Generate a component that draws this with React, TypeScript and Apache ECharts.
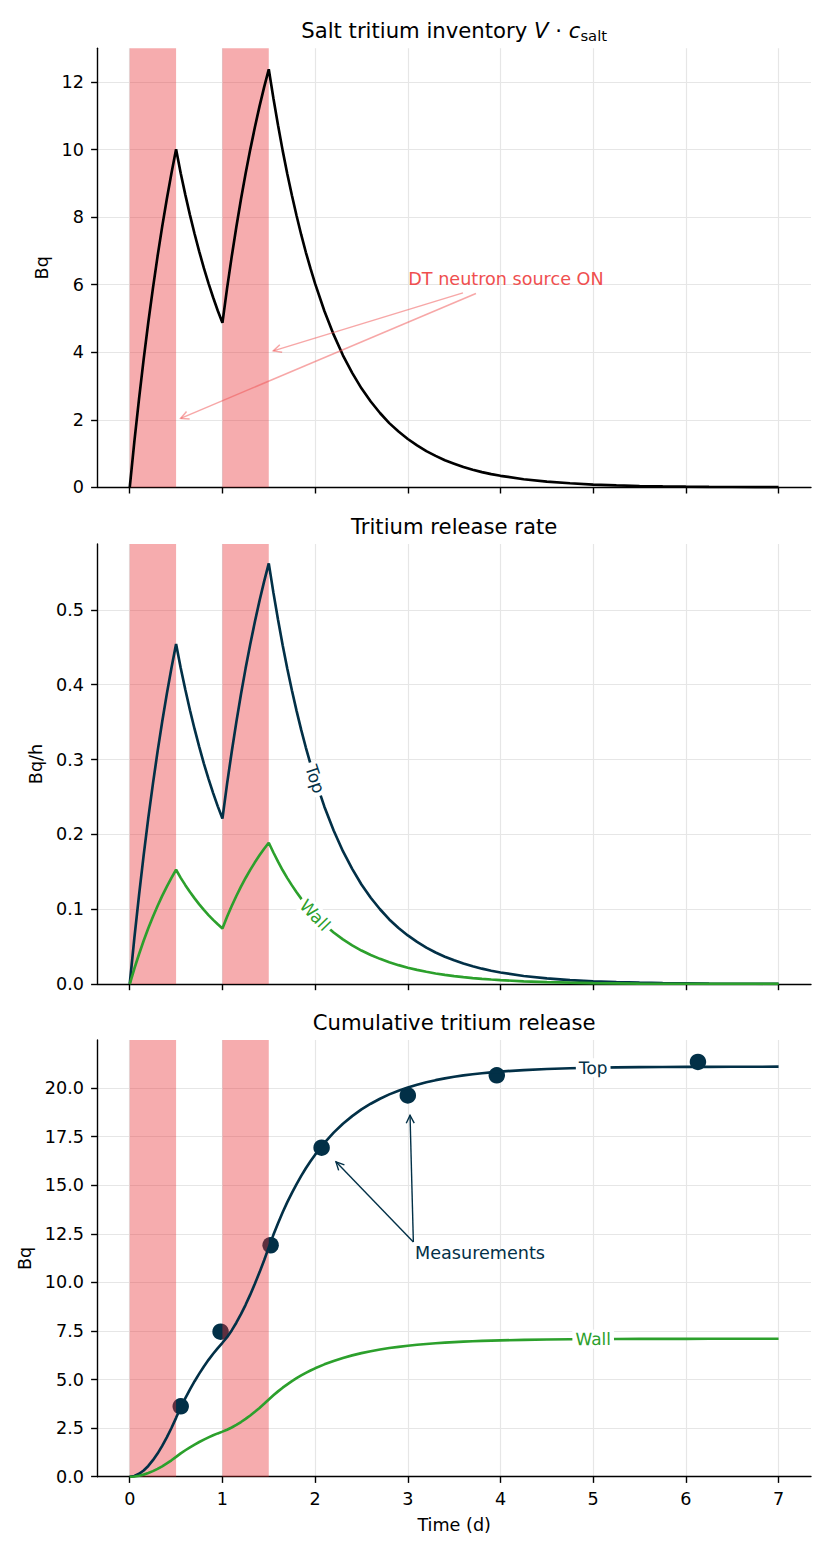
import React, { useEffect, useRef } from "react";
import * as echarts from "echarts";

// ---------- data ----------
const time = [
  0, 0.05, 0.1, 0.15, 0.2, 0.25, 0.3, 0.35, 0.4, 0.45, 0.5,
  0.55, 0.6, 0.65, 0.7, 0.75, 0.8, 0.85, 0.9, 0.95, 1.0,
  1.05, 1.1, 1.15, 1.2, 1.25, 1.3, 1.35, 1.4, 1.45, 1.5,
  1.55, 1.6, 1.65, 1.7, 1.75, 1.8, 1.85, 1.9, 1.95, 2.0,
  2.1, 2.2, 2.3, 2.4, 2.5, 2.6, 2.7, 2.8, 2.9, 3.0,
  3.1, 3.2, 3.3, 3.4, 3.5, 3.6, 3.7, 3.8, 3.9, 4.0,
  4.25, 4.5, 4.75, 5.0, 5.25, 5.5, 5.75, 6.0, 6.25, 6.5, 6.75, 7.0,
];

const inventory = [
  0, 1.36, 2.61, 3.79, 4.88, 5.89, 6.84, 7.72, 8.54, 9.3, 10.01,
  9.3, 8.66, 8.06, 7.5, 6.98, 6.49, 6.04, 5.62, 5.23, 4.87,
  5.89, 6.83, 7.71, 8.53, 9.29, 10.0, 10.66, 11.28, 11.85, 12.38,
  11.52, 10.72, 9.97, 9.28, 8.64, 8.04, 7.48, 6.96, 6.48, 6.03,
  5.22, 4.52, 3.91, 3.39, 2.93, 2.54, 2.2, 1.9, 1.65, 1.43,
  1.24, 1.07, 0.93, 0.8, 0.7, 0.6, 0.52, 0.45, 0.39, 0.34,
  0.24, 0.17, 0.12, 0.08, 0.056, 0.039, 0.027, 0.019, 0.013, 0.009, 0.006, 0.004,
];

const topRate = [
  0, 0.0615, 0.1185, 0.172, 0.2216, 0.2674, 0.3105, 0.3505, 0.3877, 0.4222, 0.4545,
  0.4222, 0.3932, 0.3659, 0.3405, 0.3169, 0.2946, 0.2742, 0.2551, 0.2374, 0.2211,
  0.2674, 0.3101, 0.35, 0.3873, 0.4218, 0.454, 0.484, 0.5121, 0.538, 0.5621,
  0.523, 0.4867, 0.4526, 0.4213, 0.3923, 0.365, 0.3396, 0.316, 0.2942, 0.2738,
  0.237, 0.2052, 0.1775, 0.1539, 0.133, 0.1153, 0.0999, 0.0863, 0.0749, 0.0649,
  0.0562, 0.0486, 0.0421, 0.0365, 0.0316, 0.0273, 0.0237, 0.0205, 0.0178, 0.0153,
  0.0107, 0.0075, 0.0052, 0.0036, 0.0025, 0.0018, 0.0012, 0.0009, 0.0006, 0.0004, 0.0003, 0.0002,
];

const wallRate = [
  0, 0.0207, 0.0398, 0.0578, 0.0744, 0.0898, 0.1043, 0.1177, 0.1302, 0.1418, 0.1527,
  0.1418, 0.1321, 0.1229, 0.1144, 0.1064, 0.099, 0.0921, 0.0857, 0.0798, 0.0743,
  0.0898, 0.1042, 0.1176, 0.1301, 0.1417, 0.1525, 0.1626, 0.172, 0.1807, 0.1888,
  0.1757, 0.1635, 0.152, 0.1415, 0.1318, 0.1226, 0.1141, 0.1061, 0.0988, 0.092,
  0.0796, 0.0689, 0.0596, 0.0517, 0.0447, 0.0387, 0.0336, 0.029, 0.0252, 0.0218,
  0.0189, 0.0163, 0.0141, 0.0122, 0.0106, 0.0092, 0.0079, 0.0069, 0.006, 0.0052,
  0.0036, 0.0025, 0.0018, 0.0012, 0.0009, 0.0006, 0.0004, 0.0003, 0.0002, 0.0001, 0.0001, 0.0001,
];

const topCumulative = [
  0, 0.037, 0.149, 0.317, 0.553, 0.849, 1.19, 1.584, 2.023, 2.507, 3.029,
  3.562, 4.043, 4.494, 4.914, 5.305, 5.673, 6.012, 6.327, 6.62, 6.891,
  7.179, 7.528, 7.922, 8.361, 8.844, 9.366, 9.925, 10.514, 11.141, 11.798,
  12.444, 13.045, 13.609, 14.127, 14.608, 15.059, 15.48, 15.87, 16.231, 16.569,
  17.178, 17.704, 18.162, 18.553, 18.898, 19.191, 19.447, 19.672, 19.86, 20.025,
  20.171, 20.295, 20.403, 20.497, 20.578, 20.648, 20.709, 20.761, 20.806, 20.846,
  20.923, 20.976, 21.014, 21.04, 21.058, 21.071, 21.08, 21.086, 21.09, 21.093, 21.095, 21.097,
];

const wallCumulative = [
  0, 0.012, 0.05, 0.107, 0.186, 0.286, 0.401, 0.533, 0.681, 0.844, 1.019,
  1.199, 1.361, 1.512, 1.654, 1.785, 1.909, 2.023, 2.129, 2.228, 2.319,
  2.416, 2.533, 2.666, 2.814, 2.976, 3.152, 3.34, 3.538, 3.749, 3.97,
  4.188, 4.39, 4.58, 4.754, 4.916, 5.067, 5.209, 5.341, 5.462, 5.576,
  5.78, 5.957, 6.112, 6.243, 6.359, 6.458, 6.544, 6.62, 6.683, 6.738,
  6.787, 6.829, 6.866, 6.897, 6.924, 6.948, 6.968, 6.986, 7.001, 7.015,
  7.04, 7.058, 7.071, 7.08, 7.086, 7.09, 7.093, 7.095, 7.097, 7.098, 7.098, 7.099,
];

const measTime = [0.55, 0.98, 1.52, 2.07, 3.0, 3.96, 6.13];
const measValue = [3.62, 7.46, 11.91, 16.93, 19.62, 20.65, 21.34];

const bandStart = [0, 1];
const bandEnd = [0.5, 1.5];

const xTicks = [0, 1, 2, 3, 4, 5, 6, 7];
const yTicks1 = [0, 2, 4, 6, 8, 10, 12];
const yTicks2 = [0, 0.1, 0.2, 0.3, 0.4, 0.5];
const yTicks3 = [0, 2.5, 5, 7.5, 10, 12.5, 15, 17.5, 20];

// annotation anchors (data coordinates)
const onLabelAt = [3.005, 6.18];
const onArrowFrom = [[3.595, 5.757], [3.735, 5.74]];
const onArrowTo = [[1.549, 4.04], [0.55, 2.04]];
const measLabelAt = [3.078, 11.49];
const measArrowFrom = [[3.06, 12.08], [3.06, 12.08]];
const measArrowTo = [[2.225, 16.2], [3.024, 18.6]];
const rateLabelTime = 2.0;
const cumLabelTime = 5.0;

// ---------- styling ----------
const FONT = "'DejaVu Sans', sans-serif";
const NAVY = "#023047";
const GREEN = "#2ca02c";
const BAND = "rgba(232,48,52,0.4)";
const GRID_LINE = "#e6e6e6";
const RED_TEXT = "#ef4f4f";
const RED_ARROW = "rgba(240,80,80,0.5)";

const GRIDS = [
  { left: 97.3, top: 48.3, width: 713.7, height: 439 },
  { left: 97.3, top: 544, width: 713.7, height: 440 },
  { left: 97.3, top: 1040, width: 713.7, height: 436.7 },
];
const YMAX = [13.0, 0.588, 22.47];
const YTICKS = [yTicks1, yTicks2, yTicks3];
const YNAMES = ["Bq", "Bq/h", "Bq"];
const YGAPS = [44, 52, 62];
const TITLE_Y = [30.5, 526.4, 1022.4];

const pairs = (xs: number[], ys: number[]) => xs.map((x, i) => [x, ys[i]]);

const bandArea = {
  silent: true,
  itemStyle: { color: BAND },
  data: bandStart.map((s, i) => [{ xAxis: s }, { xAxis: bandEnd[i] }]),
};

function buildOption(): any {
  const axisLineStyle = { color: "#000", width: 1.4 };
  const textStyle = { color: "#000", fontSize: 17.6, fontFamily: FONT };
  const xAxis = [0, 1, 2].map((i) => ({
    gridIndex: i,
    type: "value",
    min: -0.35,
    max: 7.35,
    axisLine: { show: true, onZero: false, lineStyle: axisLineStyle },
    axisTick: { show: true, length: 6.2, customValues: xTicks, lineStyle: axisLineStyle },
    axisLabel: {
      show: i === 2,
      customValues: xTicks,
      margin: 13,
      ...textStyle,
      formatter: (v: number) => String(v),
    },
    splitLine: { show: true, lineStyle: { color: GRID_LINE, width: 1.2 } },
    name: i === 2 ? "Time (d)" : "",
    nameLocation: "middle",
    nameGap: 39,
    nameTextStyle: textStyle,
  }));
  const yAxis = [0, 1, 2].map((i) => ({
    gridIndex: i,
    type: "value",
    min: 0,
    max: YMAX[i],
    axisLine: { show: true, onZero: false, lineStyle: axisLineStyle },
    axisTick: { show: true, length: 6.2, customValues: YTICKS[i], lineStyle: axisLineStyle },
    axisLabel: {
      customValues: YTICKS[i],
      margin: 13.3,
      ...textStyle,
      formatter: (v: number) => (i === 0 ? String(Math.round(v)) : v.toFixed(1)),
    },
    splitLine: { show: true, lineStyle: { color: GRID_LINE, width: 1.2 } },
    name: YNAMES[i],
    nameLocation: "middle",
    nameGap: YGAPS[i],
    nameTextStyle: textStyle,
  }));

  const lineBase = {
    type: "line",
    showSymbol: false,
    symbol: "none",
    silent: true,
    z: 3,
  };

  const series: any[] = [
    {
      ...lineBase,
      name: "inventory",
      xAxisIndex: 0,
      yAxisIndex: 0,
      data: pairs(time, inventory),
      lineStyle: { color: "#000", width: 2.65 },
      markArea: bandArea,
    },
    {
      ...lineBase,
      name: "Top",
      xAxisIndex: 1,
      yAxisIndex: 1,
      data: pairs(time, topRate),
      lineStyle: { color: NAVY, width: 2.65 },
      markArea: bandArea,
    },
    {
      ...lineBase,
      name: "Wall",
      xAxisIndex: 1,
      yAxisIndex: 1,
      data: pairs(time, wallRate),
      lineStyle: { color: GREEN, width: 2.65 },
    },
    {
      type: "scatter",
      name: "Measurements",
      xAxisIndex: 2,
      yAxisIndex: 2,
      data: pairs(measTime, measValue),
      symbolSize: 16.5,
      itemStyle: { color: NAVY, opacity: 1 },
      silent: true,
      z: 0,
    },
    {
      ...lineBase,
      name: "Top cumulative",
      xAxisIndex: 2,
      yAxisIndex: 2,
      data: pairs(time, topCumulative),
      lineStyle: { color: NAVY, width: 2.65 },
      markArea: bandArea,
    },
    {
      ...lineBase,
      name: "Wall cumulative",
      xAxisIndex: 2,
      yAxisIndex: 2,
      data: pairs(time, wallCumulative),
      lineStyle: { color: GREEN, width: 2.65 },
    },
  ];

  return {
    animation: false,
    backgroundColor: "#fff",
    grid: GRIDS,
    xAxis,
    yAxis,
    series,
  };
}

export default function App() {
  const ref = useRef<HTMLDivElement>(null);
  useEffect(() => {
    document.body.style.margin = "0";
    const chart = echarts.init(ref.current!, null, { renderer: "svg" });
    chart.setOption(buildOption());

    const px = (g: number, x: number, y: number): number[] =>
      chart.convertToPixel({ xAxisIndex: g, yAxisIndex: g } as any, [x, y]) as number[];

    const graphics: any[] = [];

    // titles
    const titleTexts = [
      "{n|Salt tritium inventory }{i|V}{n| · }{i|c}{s|salt}",
      "{n|Tritium release rate}",
      "{n|Cumulative tritium release}",
    ];
    titleTexts.forEach((t, i) => {
      graphics.push({
        type: "text",
        x: GRIDS[i].left + GRIDS[i].width / 2,
        y: TITLE_Y[i],
        z: 100,
        silent: true,
        style: {
          text: t,
          fill: "#000",
          fontSize: 21.2,
          fontFamily: FONT,
          align: "center",
          verticalAlign: "middle",
          rich: {
            n: { fontSize: 21.2, fontFamily: FONT, fill: "#000" },
            i: { fontSize: 21.2, fontFamily: FONT, fontStyle: "italic", fill: "#000" },
            s: { fontSize: 14.8, fontFamily: FONT, fill: "#000", padding: [9, 0, 0, 0] },
          },
        },
      });
    });

    // arrows
    const arrow = (g: number, from: number[], to: number[], color: string, width: number) => {
      const p0 = px(g, from[0], from[1]);
      const p1 = px(g, to[0], to[1]);
      const dx = p1[0] - p0[0];
      const dy = p1[1] - p0[1];
      const len = Math.hypot(dx, dy) || 1;
      const ux = dx / len;
      const uy = dy / len;
      const L = 8;
      const W = 4;
      graphics.push({
        type: "line",
        z: 90,
        silent: true,
        shape: { x1: p0[0], y1: p0[1], x2: p1[0], y2: p1[1] },
        style: { stroke: color, lineWidth: width },
      });
      graphics.push({
        type: "polyline",
        z: 90,
        silent: true,
        shape: {
          points: [
            [p1[0] - ux * L - uy * W, p1[1] - uy * L + ux * W],
            [p1[0], p1[1]],
            [p1[0] - ux * L + uy * W, p1[1] - uy * L - ux * W],
          ],
        },
        style: { stroke: color, lineWidth: width, fill: null },
      });
    };
    onArrowFrom.forEach((f, i) => arrow(0, f, onArrowTo[i], RED_ARROW, 1.5));
    measArrowFrom.forEach((f, i) => arrow(2, f, measArrowTo[i], NAVY, 1.4));

    // annotation texts
    const onPos = px(0, onLabelAt[0], onLabelAt[1]);
    graphics.push({
      type: "text",
      x: onPos[0],
      y: onPos[1],
      z: 95,
      silent: true,
      style: {
        text: "DT neutron source ON",
        fill: RED_TEXT,
        fontSize: 17.6,
        fontFamily: FONT,
        align: "left",
        verticalAlign: "middle",
      },
    });
    const mPos = px(2, measLabelAt[0], measLabelAt[1]);
    graphics.push({
      type: "text",
      x: mPos[0],
      y: mPos[1],
      z: 95,
      silent: true,
      style: {
        text: "Measurements",
        fill: NAVY,
        fontSize: 17.6,
        fontFamily: FONT,
        align: "left",
        verticalAlign: "middle",
      },
    });

    // inline line labels
    const inline = (g: number, xs: number[], ys: number[], t: number, text: string, color: string) => {
      const k = xs.indexOf(t);
      const p = px(g, xs[k], ys[k]);
      const a = px(g, xs[k - 1], ys[k - 1]);
      const b = px(g, xs[k + 1], ys[k + 1]);
      const ang = -Math.atan2(b[1] - a[1], b[0] - a[0]);
      graphics.push({
        type: "text",
        x: p[0],
        y: p[1],
        rotation: ang,
        z: 95,
        silent: true,
        style: {
          text,
          fill: color,
          fontSize: 17,
          fontFamily: FONT,
          align: "center",
          verticalAlign: "middle",
          backgroundColor: "#fff",
          padding: [1, 3, 1, 3],
        },
      });
    };
    inline(1, time, topRate, rateLabelTime, "Top", NAVY);
    inline(1, time, wallRate, rateLabelTime, "Wall", GREEN);
    inline(2, time, topCumulative, cumLabelTime, "Top", NAVY);
    inline(2, time, wallCumulative, cumLabelTime, "Wall", GREEN);

    chart.setOption({ graphic: graphics });
    return () => chart.dispose();
  }, []);
  return <div ref={ref} style={{ width: 830, height: 1556 }} />;
}
